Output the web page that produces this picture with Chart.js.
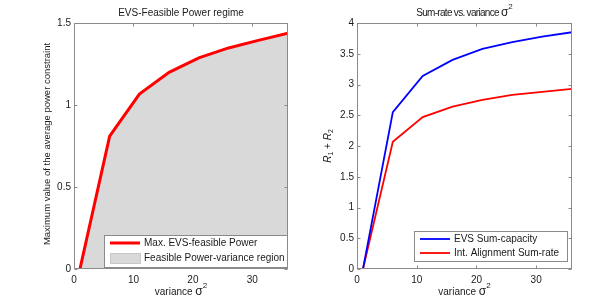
<!DOCTYPE html>
<html>
<head>
<meta charset="utf-8">
<script src="https://cdn.jsdelivr.net/npm/chart.js@4.4.0/dist/chart.umd.min.js"></script>
<style>
  html, body { margin: 0; padding: 0; background: #fff; }
  #wrap { position: relative; width: 611px; height: 304px; }
  #left { position: absolute; left: 0; top: 0; }
  #right { position: absolute; left: 305px; top: 0; }
</style>
</head>
<body>
<div id="wrap">
  <canvas id="left" width="305" height="304"></canvas>
  <canvas id="right" width="306" height="304"></canvas>
</div>
<script>
// values
const variance = [1, 6, 11, 16, 21, 26, 31, 36];
const maxPower = [0, 0.81, 1.067, 1.199, 1.287, 1.348, 1.394, 1.437];
const evsSumCapacity = [0, 2.55, 3.14, 3.40, 3.58, 3.69, 3.78, 3.85];
const iaSumRate = [0, 2.07, 2.47, 2.64, 2.75, 2.83, 2.88, 2.93];

const xTickStep = 10;
const powerTickStep = 0.5;
const rateTickStep = 0.5;

const FONT = "'Liberation Sans', Arial, Helvetica, sans-serif";
Chart.defaults.font.family = FONT;
Chart.defaults.font.size = 10;
Chart.defaults.color = '#1a1a1a';

const pts = (ys) => variance.map((x, i) => ({ x, y: ys[i] }));

// titles etc. kept outside chart options (the option resolver mangles them)
const sigma = [{ t: 'σ', size: 12 }, { t: '2', size: 8, shift: -6 }];
const decor = {
  left: {
    legend: { x: 104, y: 235, w: 184, h: 33, rowTop: 8, rowGap: 15 },
    title: [{ t: 'EVS-Feasible Power regime' }],
    xTitle: [{ t: 'variance ' }, ...sigma],
    yTitle: [{ t: 'Maximum value of the average power constraint', size: 9.5 }],
    yTitleX: 47, yTitleY: 144
  },
  right: {
    legend: { x: 109, y: 231, w: 154, h: 31, rowTop: 8, rowGap: 14 },
    title: [{ t: 'Sum-rate vs. variance ', spacing: -0.7 }, ...sigma],
    xTitle: [{ t: 'variance ' }, ...sigma],
    yTitle: [
      { t: 'R', italic: true }, { t: '1', size: 7, shift: 3 },
      { t: ' + ' },
      { t: 'R', italic: true }, { t: '2', size: 7, shift: 3 }
    ],
    yTitleX: 23
  }
};

// text with sub/superscripts; parts = [{t, size, italic, shift, spacing}]
function drawRich(ctx, parts, cx, cy, rotate) {
  ctx.save();
  ctx.translate(cx, cy);
  if (rotate) ctx.rotate(-Math.PI / 2);
  ctx.textBaseline = 'middle';
  ctx.textAlign = 'left';
  ctx.fillStyle = '#1a1a1a';
  const setFont = p => {
    ctx.font = (p.italic ? 'italic ' : '') + (p.size || 10) + 'px ' + FONT;
    ctx.letterSpacing = (p.spacing || 0) + 'px';
  };
  let w = 0;
  parts.forEach(p => { setFont(p); w += ctx.measureText(p.t).width; });
  let x = -w / 2;
  parts.forEach(p => {
    setFont(p);
    ctx.fillText(p.t, x, p.shift || 0);
    x += ctx.measureText(p.t).width;
  });
  ctx.restore();
}

// MATLAB-like box with inward ticks, titles and an inset legend
const matlabBox = {
  id: 'matlabBox',
  afterDatasetsDraw(chart) {
    const opts = decor[chart.canvas.id];
    const { ctx, chartArea: a, scales: { x, y } } = chart;
    const L = Math.round(a.left) + 0.5, R = Math.round(a.right) - 0.5;
    const T = Math.round(a.top) + 0.5, B = Math.round(a.bottom) - 0.5;
    ctx.save();
    ctx.strokeStyle = '#8a8a8a';
    ctx.lineWidth = 1;
    ctx.strokeRect(L, T, R - L, B - T);
    ctx.beginPath();
    x.ticks.forEach(t => {
      const px = Math.round(x.getPixelForValue(t.value)) + 0.5;
      ctx.moveTo(px, B); ctx.lineTo(px, B - 3);
      ctx.moveTo(px, T); ctx.lineTo(px, T + 3);
    });
    y.ticks.forEach(t => {
      const py = Math.round(y.getPixelForValue(t.value)) + 0.5;
      ctx.moveTo(L, py); ctx.lineTo(L + 3, py);
      ctx.moveTo(R, py); ctx.lineTo(R - 3, py);
    });
    ctx.stroke();

    // legend
    const lg = opts.legend;
    ctx.fillStyle = '#fff';
    ctx.fillRect(lg.x, lg.y, lg.w, lg.h);
    ctx.strokeStyle = '#8a8a8a';
    ctx.strokeRect(lg.x + 0.5, lg.y + 0.5, lg.w - 1, lg.h - 1);
    ctx.font = '10px ' + FONT;
    ctx.textBaseline = 'middle';
    ctx.textAlign = 'left';
    chart.data.datasets.forEach((ds, i) => {
      const cy = lg.y + lg.rowTop + i * lg.rowGap;
      const sx = lg.x + 6;
      if (ds.fill) {
        ctx.fillStyle = ds.backgroundColor;
        ctx.fillRect(sx, cy - 5, 31, 11);
        ctx.strokeStyle = '#c8c8c8';
        ctx.strokeRect(sx + 0.5, cy - 4.5, 30, 10);
      } else {
        ctx.strokeStyle = ds.borderColor;
        ctx.lineWidth = ds.borderWidth;
        ctx.beginPath();
        ctx.moveTo(sx, cy); ctx.lineTo(sx + 30, cy);
        ctx.stroke();
        ctx.lineWidth = 1;
      }
      ctx.fillStyle = '#1a1a1a';
      ctx.fillText(ds.label, sx + 34, cy + 0.5);
    });
    ctx.restore();

    const cx = (a.left + a.right) / 2;
    drawRich(ctx, opts.title, cx, 13, false);
    drawRich(ctx, opts.xTitle, cx, 292, false);
    drawRich(ctx, opts.yTitle, opts.yTitleX, opts.yTitleY || (a.top + a.bottom) / 2, true);
  }
};

function axes(yMax, yStep, yWidth) {
  return {
    x: {
      type: 'linear', min: 0, max: 36,
      grid: { display: false, drawTicks: false },
      border: { display: false },
      ticks: { stepSize: xTickStep, includeBounds: false, padding: 5, callback: v => String(v) },
      afterFit: s => { s.height = 35; }
    },
    y: {
      type: 'linear', min: 0, max: yMax,
      grid: { display: false, drawTicks: false },
      border: { display: false },
      ticks: { stepSize: yStep, padding: 3, callback: v => String(v) },
      afterFit: s => { s.width = yWidth; }
    }
  };
}

new Chart(document.getElementById('left'), {
  type: 'line',
  data: {
    datasets: [
      {
        label: 'Max. EVS-feasible Power',
        data: pts(maxPower),
        borderColor: '#ff0000',
        borderWidth: 3,
        pointRadius: 0,
        fill: false,
        order: 0
      },
      {
        label: 'Feasible Power-variance region',
        data: pts(maxPower),
        borderWidth: 0,
        backgroundColor: '#d9d9d9',
        pointRadius: 0,
        fill: 'origin',
        order: 1
      }
    ]
  },
  options: {
    responsive: false,
    animation: false,
    layout: { padding: { left: 0, top: 23, right: 17, bottom: 0 } },
    scales: axes(1.5, powerTickStep, 74),
    plugins: { legend: { display: false }, tooltip: { enabled: false } }
  },
  plugins: [matlabBox]
});

new Chart(document.getElementById('right'), {
  type: 'line',
  data: {
    datasets: [
      {
        label: 'EVS Sum-capacity',
        data: pts(evsSumCapacity),
        borderColor: '#0000ff',
        borderWidth: 1.8,
        pointRadius: 0,
        fill: false
      },
      {
        label: 'Int. Alignment Sum-rate',
        data: pts(iaSumRate),
        borderColor: '#ff0000',
        borderWidth: 1.8,
        pointRadius: 0,
        fill: false
      }
    ]
  },
  options: {
    responsive: false,
    animation: false,
    layout: { padding: { left: 0, top: 23, right: 39, bottom: 0 } },
    scales: axes(4, rateTickStep, 52),
    plugins: { legend: { display: false }, tooltip: { enabled: false } }
  },
  plugins: [matlabBox]
});
</script>
</body>
</html>
